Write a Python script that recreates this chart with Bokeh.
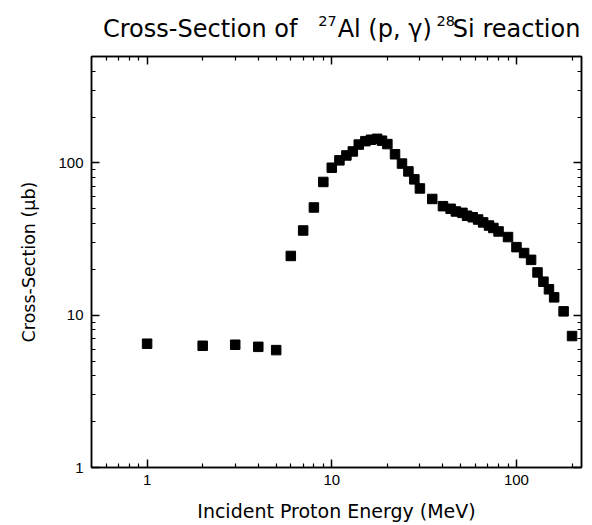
from bokeh.plotting import figure
from bokeh.models import LogAxis, FixedTicker, Range1d
from bokeh.layouts import column
from bokeh.core.properties import value
from bokeh.embed import file_html
from bokeh.resources import INLINE

# ---- data ----
energy_mev = [1, 2, 3, 4, 5, 6, 7, 8, 9, 10, 11, 12, 13, 14, 15.2, 16.3, 17.6, 18.7, 20,
              22, 24, 26, 28, 30, 35, 40, 44, 47, 51, 54, 58, 62, 66, 71, 75, 80, 90,
              100, 110, 120, 130, 140, 150, 160, 180, 200]
cross_section_ub = [6.5, 6.3, 6.4, 6.2, 5.9, 24.5, 36, 51, 75, 93, 104, 112, 119, 132, 139, 142, 144, 140, 133,
                    114, 99, 88, 78, 68, 58, 52, 50, 48, 47, 45, 44, 42.5, 40.7, 38.8, 37.4, 35.5, 32.6,
                    28, 25.6, 23.1, 19.1, 16.6, 14.8, 13.1, 10.6, 7.3]

x_major = [1, 10, 100]
x_minor = [0.6, 0.7, 0.8, 0.9, 2, 3, 4, 5, 6, 7, 8, 9, 20, 30, 40, 50, 60, 70, 80, 90, 200]
y_major = [1, 10, 100]
y_minor = [2, 3, 4, 5, 6, 7, 8, 9, 20, 30, 40, 50, 60, 70, 80, 90, 200, 300, 400]
tick_labels = {1: "1", 10: "10", 100: "100"}

title_parts = [("Cross-Section of  ", False), ("27", True), ("Al (p, \u03b3) ", False),
               ("28", True), ("Si reaction", False)]
x_label = "Incident Proton Energy (MeV)"
y_label = "Cross-Section (\u03bcb)"

TICK_FONT = "Liberation Sans"
TEXT_FONT = "DejaVu Sans"

W_TOTAL, H_TOTAL = 592, 525
H_TITLE = 46
FRAME_L, FRAME_R = 91, 581   # main frame; the title strip frame is aligned to it

# ---- title strip (its own small svg figure, so superscripts can be drawn) ----
t = figure(width=W_TOTAL, height=H_TITLE, title=None,
           x_range=Range1d(FRAME_L, FRAME_R), y_range=Range1d(0, H_TITLE),
           output_backend="svg", toolbar_location=None, x_axis_location=None, y_axis_location=None,
           min_border_left=FRAME_L, min_border_right=W_TOTAL - FRAME_R, min_border_top=0, min_border_bottom=0)
t.outline_line_color = None
t.background_fill_color = "white"
t.border_fill_color = "white"
t.xgrid.visible = False
t.ygrid.visible = False

# DejaVu Sans advance widths (1/1000 em)
DW = {" ": 318, "(": 390, ")": 390, ",": 318, "-": 361, "2": 636, "7": 636, "8": 636,
      "A": 684, "C": 698, "S": 635, "a": 613, "c": 550, "e": 615, "f": 352, "i": 278,
      "l": 278, "n": 634, "o": 612, "p": 635, "r": 411, "s": 521, "t": 392, "\u03b3": 592}
TF = 24.0
SF = 14.5
extra_gap = [5.0, 1.0, -3.0, -2.0, 0.0]
cx = 102.5
MAIN_Y, SUP_Y = 18.0, 25.5
for (txt, sup), gap in zip(title_parts, extra_gap):
    size = SF if sup else TF
    yy = SUP_Y if sup else MAIN_Y
    t.text(x=[cx], y=[yy], text=[txt.strip()], text_font=value(TEXT_FONT),
           text_font_size=value(f"{size:.1f}px"), text_color="black",
           text_baseline="alphabetic", text_align="left")
    cx += sum(DW.get(ch, 600) for ch in txt) / 1000.0 * size + gap

# ---- main plot ----
p = figure(width=W_TOTAL, height=H_TOTAL - H_TITLE, x_axis_type="log", y_axis_type="log",
           x_range=(0.5, 225), y_range=(1, 500),
           output_backend="svg", toolbar_location=None,
           min_border_left=FRAME_L, min_border_right=W_TOTAL - FRAME_R,
           min_border_top=56 - H_TITLE, min_border_bottom=58)
p.background_fill_color = "white"
p.border_fill_color = "white"
p.outline_line_color = "black"
p.outline_line_width = 1.5
p.xgrid.visible = False
p.ygrid.visible = False

p.scatter(energy_mev, cross_section_ub, marker="square", size=9.5,
          fill_color="black", line_color="black")

def style_axis(ax, major, minor, labels, font_size="15px", standoff=5):
    ax.ticker = FixedTicker(ticks=major, minor_ticks=minor)
    ax.major_label_overrides = labels
    ax.major_tick_in = 8
    ax.major_tick_out = 0
    ax.minor_tick_in = 4
    ax.minor_tick_out = 0
    ax.axis_line_color = "black"
    ax.axis_line_width = 1.5
    ax.major_tick_line_color = "black"
    ax.major_tick_line_width = 1.5
    ax.minor_tick_line_color = "black"
    ax.minor_tick_line_width = 1.2
    ax.major_label_text_font = TICK_FONT
    ax.major_label_text_font_size = font_size
    ax.major_label_text_color = "black"
    ax.major_label_standoff = standoff
    ax.axis_label_text_font = TEXT_FONT
    ax.axis_label_text_font_style = "normal"
    ax.axis_label_text_color = "black"

xa = p.xaxis[0]
ya = p.yaxis[0]
style_axis(xa, x_major, x_minor, tick_labels, standoff=7)
style_axis(ya, y_major, y_minor, tick_labels, standoff=8)
xa.axis_label = x_label
xa.axis_label_text_font_size = "19px"
xa.axis_label_standoff = 12
ya.axis_label = y_label
ya.axis_label_text_font_size = "17.5px"
ya.axis_label_standoff = 16

top = LogAxis()
style_axis(top, x_major, x_minor, {1: "", 10: "", 100: ""}, font_size="1px", standoff=0)
p.add_layout(top, "above")
right = LogAxis()
style_axis(right, y_major, y_minor, {1: "", 10: "", 100: ""}, font_size="1px", standoff=0)
p.add_layout(right, "right")

layout = column(t, p, spacing=0)
open("out.html", "w").write(file_html(layout, INLINE))
